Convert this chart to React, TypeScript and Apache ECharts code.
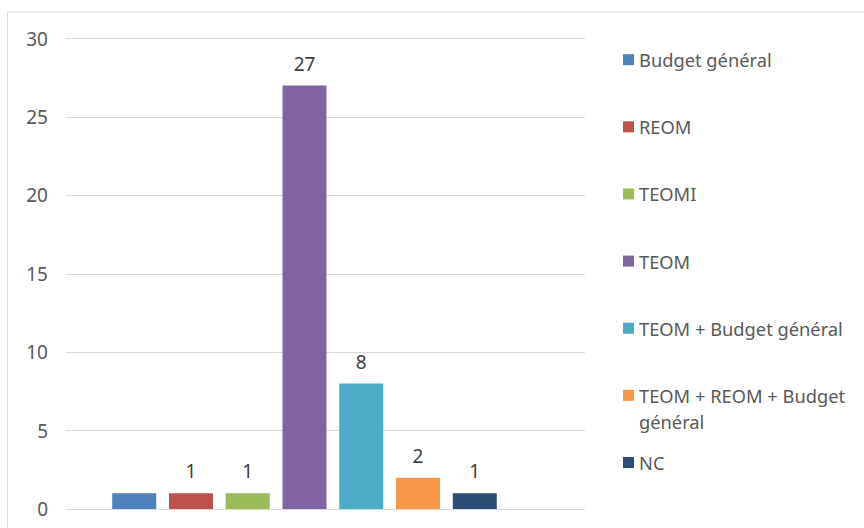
import React, { useEffect, useRef } from 'react';
import * as echarts from 'echarts';

const categories = ['Mode de financement'];
const seriesNames = [
  'Budget général',
  'REOM',
  'TEOMI',
  'TEOM',
  'TEOM + Budget général',
  'TEOM + REOM + Budget général',
  'NC',
];
const seriesValues = [1, 1, 1, 27, 8, 2, 1];
const showValueLabel = [false, true, true, true, true, true, true];
const seriesColors = ['#4F81BD', '#C0504D', '#9BBB59', '#8064A2', '#4BACC6', '#F79646', '#2C4D75'];
const yMin = 0;
const yMax = 30;
const yInterval = 5;

export default function App() {
  const ref = useRef<HTMLDivElement>(null);

  useEffect(() => {
    if (!ref.current) return;
    const chart = echarts.init(ref.current, null, { renderer: 'svg' });
    const font = 'Noto Sans';
    const legendCenter0 = 59.7;
    const legendStep = 67.13;
    const wrapName = 'TEOM + REOM + Budget général';

    const legends = seriesNames.map((name, i) => {
      const c = legendCenter0 + i * legendStep;
      const wrapped = name === wrapName;
      const lg: any = {
        data: [name],
        orient: 'vertical',
        left: 623,
        top: wrapped ? c - 39 : c - 10,
        padding: 0,
        itemWidth: 11,
        itemHeight: 11,
        itemGap: 0,
        icon: 'rect',
        selectedMode: false,
        textStyle: {
          fontFamily: font,
          fontSize: 18.3,
          color: '#595959',
          lineHeight: wrapped ? 26 : 20,
        },
      };
      // leading empty line keeps the first text line level with the marker
      if (wrapped) lg.formatter = () => '\nTEOM + REOM + Budget\ngénéral';
      return lg;
    });

    const option: any = {
      animation: false,
      backgroundColor: '#ffffff',
      graphic: [
        {
          type: 'rect',
          silent: true,
          z: -10,
          shape: { x: 7.5, y: 12, width: 1000, height: 1000 },
          style: { fill: 'none', stroke: '#d9d9d9', lineWidth: 1 },
        },
      ],
      legend: legends,
      grid: [
        { left: 66, right: 864 - 585, top: 38.5, bottom: 19 },
        { left: 66, right: 864 - 543, top: 38.5, bottom: 19 },
      ],
      xAxis: [
        { gridIndex: 0, type: 'category', data: categories, show: false },
        { gridIndex: 1, type: 'category', data: categories, show: false },
      ],
      yAxis: [
        {
          gridIndex: 0,
          type: 'value',
          min: yMin,
          max: yMax,
          interval: yInterval,
          axisLine: { show: false },
          axisTick: { show: false },
          axisLabel: { margin: 18, color: '#595959', fontFamily: font, fontSize: 19 },
          splitLine: { show: true, lineStyle: { color: '#d9d9d9', width: 1 } },
        },
        {
          gridIndex: 1,
          type: 'value',
          min: yMin,
          max: yMax,
          interval: yInterval,
          show: false,
          splitLine: { show: false },
        },
      ],
      series: seriesNames.map((name, i) => ({
        name,
        type: 'bar',
        xAxisIndex: 1,
        yAxisIndex: 1,
        data: [seriesValues[i]],
        barWidth: 44,
        barGap: '29%',
        itemStyle: { color: seriesColors[i] },
        label: {
          show: showValueLabel[i],
          position: 'top',
          distance: 12,
          color: '#404040',
          fontFamily: font,
          fontSize: 19,
          lineHeight: 20,
        },
      })),
    };

    chart.setOption(option);
    return () => chart.dispose();
  }, []);

  return (
    <div
      ref={ref}
      style={{ position: 'absolute', left: 0, top: 0, width: 864, height: 528 }}
    />
  );
}
